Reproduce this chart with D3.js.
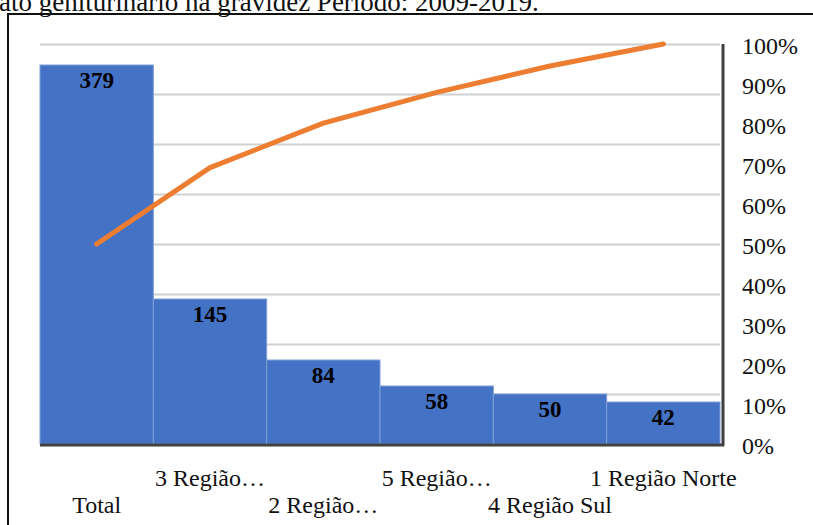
<!DOCTYPE html>
<html>
<head>
<meta charset="utf-8">
<script src="https://cdn.jsdelivr.net/npm/d3@7"></script>
<style>
  body { margin: 0; background: #fff; }
  svg { display: block; font-family: "Liberation Serif", "Times New Roman", serif; }
</style>
</head>
<body>
<svg id="chart" width="813" height="525"></svg>
<script>
// data
const categories = ["Total", "3 Região…", "2 Região…", "5 Região…", "4 Região Sul", "1 Região Norte"];
const counts = [379, 145, 84, 58, 50, 42];
// cumulative share line, in percent
const cumulative = [50.0, 69.1, 80.2, 87.9, 94.5, 100];
const percentTicks = [0, 10, 20, 30, 40, 50, 60, 70, 80, 90, 100];
const countGrid = [50, 100, 150, 200, 250, 300, 350, 400];
const title = "ato geniturinário na gravidez Período: 2009-2019.";

const svg = d3.select("#chart");

// plot box
const plotLeft = 40, plotRight = 720, plotTop = 44, plotBottom = 444;

let x = d3.scaleBand().domain(categories).range([plotLeft, plotRight]).padding(0);
let y = d3.scaleLinear().domain([0, 400]).range([plotBottom, plotTop]);
let yPct = d3.scaleLinear().domain([0, 100]).range([plotBottom, plotTop]);

// caption cut off at the top of the crop
svg.append("text")
    .attr("x", -1).attr("y", 11)
    .style("font-size", "27px")
    .style("fill", "#111")
    .text(title);

// outer frame
svg.append("rect")
    .attr("x", 8).attr("y", 14)
    .attr("width", 830).attr("height", 540)
    .style("fill", "none")
    .style("stroke", "#111")
    .style("stroke-width", 2);

//gridlines:
svg.append("g").selectAll("line")
    .data(countGrid)
    .join("line")
    .attr("x1", plotLeft).attr("x2", plotRight)
    .attr("y1", d => y(d) + 0.5).attr("y2", d => y(d) + 0.5)
    .style("stroke", "#d0d0d0")
    .style("stroke-width", 2);

//bars:
svg.append("g").selectAll("rect")
    .data(counts)
    .join("rect")
    .attr("x", (d, i) => x(categories[i]))
    .attr("y", d => y(d))
    .attr("width", x.bandwidth())
    .attr("height", d => plotBottom - y(d))
    .style("fill", "#4472c4")
    .style("stroke", "#7f9fd8")
    .style("stroke-width", 1);

svg.append("g").selectAll("text")
    .data(counts)
    .join("text")
    .attr("x", (d, i) => x(categories[i]) + x.bandwidth() / 2)
    .attr("y", d => y(d) + 23)
    .attr("text-anchor", "middle")
    .style("font-size", "23px")
    .style("font-weight", "bold")
    .style("fill", "#000")
    .text(d => d);

// base and right axis lines
svg.append("line")
    .attr("x1", plotLeft).attr("x2", 724)
    .attr("y1", plotBottom + 1).attr("y2", plotBottom + 1)
    .style("stroke", "#404040")
    .style("stroke-width", 3);
svg.append("line")
    .attr("x1", 723).attr("x2", 723)
    .attr("y1", plotTop).attr("y2", plotBottom + 2)
    .style("stroke", "#404040")
    .style("stroke-width", 3);

//cumulative line:
let line = d3.line()
    .x((d, i) => x(categories[i]) + x.bandwidth() / 2)
    .y(d => yPct(d));
svg.append("path")
    .datum(cumulative)
    .attr("d", line)
    .style("fill", "none")
    .style("stroke", "#ed7d31")
    .style("stroke-width", 5)
    .style("stroke-linecap", "round")
    .style("stroke-linejoin", "round");

// right percent axis, no ticks
let pctAxis = d3.axisRight(yPct)
    .tickValues(percentTicks)
    .tickFormat(d => d + "%")
    .tickSize(0)
    .tickPadding(0);
let axisG = svg.append("g")
    .attr("transform", "translate(742,2)")
    .call(pctAxis);
axisG.select(".domain").remove();
axisG.selectAll("text")
    .style("font-family", "Liberation Serif, Times New Roman, serif")
    .style("font-size", "24px")
    .style("fill", "#111");

// category labels, staggered over two rows
svg.append("g").selectAll("text")
    .data(categories)
    .join("text")
    .attr("x", d => x(d) + x.bandwidth() / 2)
    .attr("y", (d, i) => i % 2 === 1 ? 486 : 513)
    .attr("text-anchor", "middle")
    .style("font-size", "24px")
    .style("fill", "#111")
    .text(d => d);
</script>
</body>
</html>
